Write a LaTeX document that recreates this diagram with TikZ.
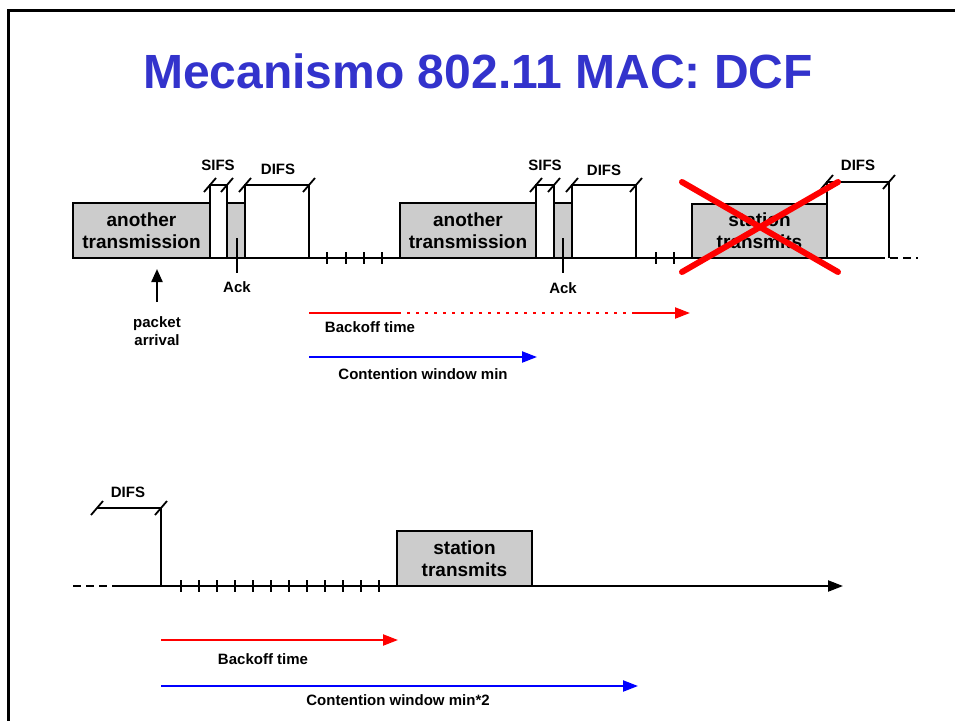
\documentclass[tikz,border=0pt]{standalone}
\usepackage{fontspec}
\setmainfont{Liberation Sans}
\usetikzlibrary{arrows.meta}
\definecolor{titleblue}{RGB}{51,51,204}
\definecolor{boxgray}{RGB}{204,204,204}
\begin{document}
\begin{tikzpicture}[x=1pt,y=-1pt,
  box/.style={draw=black, line width=2pt, fill=boxgray, inner sep=0pt, outer sep=0pt, align=center,
    anchor=south west, font=\bfseries\fontsize{19}{22}\selectfont},
  lbl/.style={font=\bfseries\fontsize{15}{18}\selectfont, inner sep=0pt, align=center},
  axis/.style={line width=2.2pt},
  meas/.style={line width=2pt},
  dashline/.style={line width=2.8pt, dash pattern=on 8pt off 5pt},
  redarrow/.style={line width=2.2pt, red, -{Triangle[length=15pt,width=11pt]}},
  bluearrow/.style={line width=2.2pt, blue, -{Triangle[length=15pt,width=11pt]}},
  cross/.style={line width=6pt, red, line cap=round},
  tickmark/.pic={\draw[meas] (0,-6) -- (0,6);},
  slash/.pic={\draw[line width=1.8pt] (-6,7) -- (6,-7);}
]
\useasboundingbox (0,0) rectangle (955,720);
% frame
\draw[line width=3pt] (8,725) -- (8,10) -- (960,10);
% title
\node[font=\bfseries\fontsize{48}{58}\selectfont, text=titleblue, anchor=base, inner sep=0pt] (title) at (478,88) {Mecanismo 802.11 MAC: DCF};

%================ upper timeline
\coordinate (u0) at (73,258);
\coordinate (u1) at (877,258);
\coordinate (u2) at (918,258);
\draw[axis] (u0) -- (u1);
\draw[dashline] (u1) -- (u2);

\node[box, minimum width=137pt, minimum height=55pt] (t1) at (73,258) {another\\transmission};
\node[box, minimum width=18pt, minimum height=55pt] (a1) at (227,258) {};
\node[box, minimum width=136pt, minimum height=55pt] (t2) at (400,258) {another\\transmission};
\node[box, minimum width=18pt, minimum height=55pt] (a2) at (554,258) {};
\node[box, minimum width=135pt, minimum height=54pt] (st1) at (692,258) {station\\transmits};

% SIFS / DIFS group 1
\coordinate (s1a) at (210,185);
\coordinate (s1b) at (227,185);
\coordinate (d1a) at (245,185);
\coordinate (d1b) at (309,185);
\coordinate (d1c) at (309,258);
\draw[meas] (t1.north east) -- (s1a) -- (s1b) -- (a1.north west);
\draw[meas] (a1.north east) -- (d1a) -- (d1b) -- (d1c);
\foreach \c in {s1a,s1b,d1a,d1b} \pic at (\c) {slash};
\node[lbl] (sifs1) at (218,165) {SIFS};
\node[lbl] (difs1) at (278,169) {DIFS};

% SIFS / DIFS group 2
\coordinate (s2a) at (536,185);
\coordinate (s2b) at (554,185);
\coordinate (d2a) at (572,185);
\coordinate (d2b) at (636,185);
\coordinate (d2c) at (636,258);
\draw[meas] (t2.north east) -- (s2a) -- (s2b) -- (a2.north west);
\draw[meas] (a2.north east) -- (d2a) -- (d2b) -- (d2c);
\foreach \c in {s2a,s2b,d2a,d2b} \pic at (\c) {slash};
\node[lbl] (sifs2) at (545,165) {SIFS};
\node[lbl] (difs2) at (604,170) {DIFS};

% DIFS group 3
\coordinate (d3a) at (827,182);
\coordinate (d3b) at (889,182);
\coordinate (d3c) at (889,258);
\draw[meas] (st1.north east) -- (d3a) -- (d3b) -- (d3c);
\foreach \c in {d3a,d3b} \pic at (\c) {slash};
\node[lbl] (difs3) at (858,165) {DIFS};

% ticks
\foreach \x in {327,346,364,382,656,674} \pic at (\x,258) {tickmark};

% Ack pointers
\coordinate (p1a) at (237,238);
\coordinate (p1b) at (237,273);
\draw[meas] (p1a) -- (p1b);
\node[lbl] (ack1) at (237,287) {Ack};
\coordinate (p2a) at (563,238);
\coordinate (p2b) at (563,273);
\draw[meas] (p2a) -- (p2b);
\node[lbl] (ack2) at (563,288) {Ack};

% packet arrival
\node[lbl] (pa) at (157,331) {packet\\arrival};
\coordinate (pa1) at (157,302);
\coordinate (pa2) at (157,269);
\draw[line width=2.2pt, -{Triangle[length=13pt,width=11pt]}] (pa1) -- (pa2);

% red cross
\coordinate (x1) at (682,182);
\coordinate (x2) at (838,272);
\coordinate (x3) at (682,272);
\coordinate (x4) at (838,182);
\draw[cross] (x1) -- (x2);
\draw[cross] (x3) -- (x4);

% backoff / contention upper
\coordinate (b0) at (309,313);
\coordinate (b1) at (398,313);
\coordinate (b2) at (632,313);
\coordinate (b3) at (690,313);
\draw[line width=2.2pt, red] (b0) -- (b1);
\draw[line width=2.6pt, red, dash pattern=on 2.5pt off 6.5pt] (b1) -- (b2);
\draw[redarrow] (b2) -- (b3);
\node[lbl] (bt1) at (370,327) {Backoff time};
\coordinate (c0) at (309,357);
\coordinate (c1) at (537,357);
\draw[bluearrow] (c0) -- (c1);
\node[lbl] (cw1) at (423,374) {Contention window min};

%================ lower timeline
\coordinate (l0) at (73,586);
\coordinate (l1) at (117,586);
\coordinate (l2) at (843,586);
\draw[dashline] (l0) -- (l1);
\draw[axis, -{Triangle[length=15pt,width=11pt]}] (l1) -- (l2);
\coordinate (ld0) at (97,508);
\coordinate (ld1) at (161,508);
\coordinate (ld2) at (161,586);
\draw[meas] (ld0) -- (ld1) -- (ld2);
\foreach \c in {ld0,ld1} \pic at (\c) {slash};
\node[lbl] (difs4) at (128,492) {DIFS};
\foreach \x in {181,199,217,235,253,271,289,307,325,343,361,379} \pic at (\x,586) {tickmark};
\node[box, minimum width=135pt, minimum height=55pt] (st2) at (397,586) {station\\transmits};

\coordinate (r0) at (161,640);
\coordinate (r1) at (398,640);
\draw[redarrow] (r0) -- (r1);
\node[lbl] (bt2) at (263,659) {Backoff time};
\coordinate (q0) at (161,686);
\coordinate (q1) at (638,686);
\draw[bluearrow] (q0) -- (q1);
\node[lbl] (cw2) at (398,700) {Contention window min*2};
\end{tikzpicture}
\end{document}
